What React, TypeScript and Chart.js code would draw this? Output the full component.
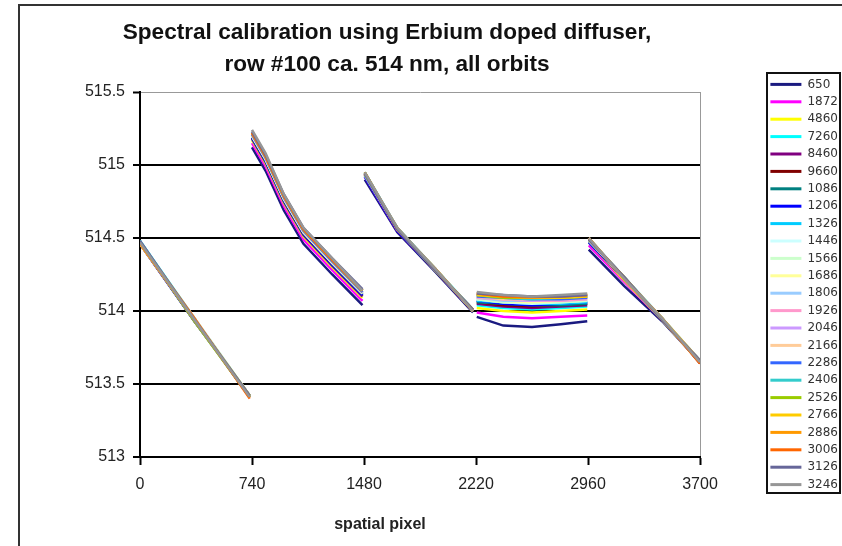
import React, { useEffect, useRef } from "react";
import { Chart, registerables } from "chart.js";

Chart.register(...registerables);

// ---- text ----
const titleLines = [
  "Spectral calibration using Erbium doped diffuser,",
  "row #100 ca. 514 nm, all orbits",
];
const xAxisTitle = "spatial pixel";
const xTickLabels = ["0", "740", "1480", "2220", "2960", "3700"];
const yTickLabels = ["513", "513.5", "514", "514.5", "515", "515.5"];

// ---- legend (orbits) ----
const orbits = [
  "650", "1872", "4860", "7260", "8460", "9660", "1086", "1206", "1326", "1446", "1566", "1686",
  "1806", "1926", "2046", "2166", "2286", "2406", "2526", "2766", "2886", "3006", "3126", "3246",
];

// ---- x positions (spatial pixel); null y values mark the gaps between detector blocks ----
const spatialPixel = [
  0, 360, 725, 732,
  740, 830, 950, 1080, 1270, 1470, 1477,
  1485, 1700, 1950, 2200, 2212,
  2225, 2400, 2590, 2780, 2955, 2960,
  2965, 3200, 3450, 3700,
];

// ---- wavelength (nm) per orbit ----
const s650 = [514.46, 513.93, 513.42, null, 515.12, 514.96, 514.69, 514.46, 514.25, 514.04, null, 514.90, 514.54, 514.27, 513.99, null, 513.96, 513.90, 513.89, 513.91, 513.93, null, 514.42, 514.17, 513.93, 513.65];
const s1872 = [514.47, 513.94, 513.41, null, 515.15, 514.99, 514.72, 514.49, 514.28, 514.07, null, 514.92, 514.55, 514.28, 514.00, null, 513.99, 513.96, 513.95, 513.96, 513.97, null, 514.45, 514.20, 513.94, 513.65];
const s4860 = [514.47, 513.94, 513.42, null, 515.17, 515.01, 514.74, 514.51, 514.30, 514.09, null, 514.93, 514.56, 514.28, 514.00, null, 514.02, 514.00, 513.99, 514.00, 514.01, null, 514.47, 514.21, 513.94, 513.66];
const s7260 = [514.48, 513.95, 513.42, null, 515.18, 515.02, 514.75, 514.52, 514.31, 514.10, null, 514.95, 514.56, 514.29, 514.01, null, 514.04, 514.02, 514.01, 514.02, 514.03, null, 514.48, 514.22, 513.95, 513.66];
const s8460 = [514.46, 513.94, 513.41, null, 515.18, 515.02, 514.75, 514.52, 514.31, 514.10, null, 514.93, 514.55, 514.28, 514.00, null, 514.05, 514.03, 514.02, 514.03, 514.04, null, 514.48, 514.22, 513.94, 513.65];
const s9660 = [514.47, 513.93, 513.42, null, 515.19, 515.03, 514.76, 514.53, 514.32, 514.11, null, 514.93, 514.56, 514.28, 514.01, null, 514.06, 514.04, 514.03, 514.04, 514.05, null, 514.49, 514.22, 513.95, 513.64];
const s1086 = [514.47, 513.94, 513.41, null, 515.19, 515.03, 514.76, 514.53, 514.32, 514.11, null, 514.94, 514.56, 514.29, 514.00, null, 514.06, 514.05, 514.04, 514.04, 514.05, null, 514.48, 514.23, 513.94, 513.65];
const s1206 = [514.46, 513.93, 513.42, null, 515.19, 515.03, 514.76, 514.53, 514.32, 514.11, null, 514.92, 514.55, 514.28, 514.00, null, 514.07, 514.05, 514.04, 514.05, 514.06, null, 514.47, 514.22, 513.94, 513.66];
const s1326 = [514.48, 513.94, 513.41, null, 515.20, 515.04, 514.77, 514.54, 514.33, 514.12, null, 514.95, 514.57, 514.28, 514.01, null, 514.07, 514.06, 514.05, 514.05, 514.06, null, 514.49, 514.23, 513.95, 513.65];
const s1446 = [514.47, 513.95, 513.42, null, 515.20, 515.04, 514.77, 514.54, 514.33, 514.12, null, 514.94, 514.56, 514.29, 514.00, null, 514.08, 514.06, 514.05, 514.06, 514.07, null, 514.49, 514.22, 513.94, 513.65];
const s1566 = [514.47, 513.94, 513.41, null, 515.20, 515.04, 514.77, 514.54, 514.33, 514.12, null, 514.93, 514.56, 514.28, 514.01, null, 514.08, 514.06, 514.06, 514.06, 514.07, null, 514.48, 514.23, 513.95, 513.66];
const s1686 = [514.46, 513.94, 513.42, null, 515.20, 515.04, 514.77, 514.54, 514.33, 514.12, null, 514.94, 514.57, 514.29, 514.00, null, 514.09, 514.07, 514.06, 514.07, 514.08, null, 514.49, 514.22, 513.95, 513.65];
const s1806 = [514.47, 513.93, 513.41, null, 515.21, 515.05, 514.78, 514.55, 514.34, 514.13, null, 514.95, 514.56, 514.28, 514.01, null, 514.09, 514.07, 514.07, 514.07, 514.08, null, 514.50, 514.23, 513.94, 513.65];
const s1926 = [514.48, 513.94, 513.42, null, 515.21, 515.05, 514.78, 514.55, 514.34, 514.13, null, 514.93, 514.56, 514.29, 514.00, null, 514.09, 514.08, 514.07, 514.07, 514.08, null, 514.49, 514.22, 513.95, 513.66];
const s2046 = [514.47, 513.94, 513.41, null, 515.21, 515.05, 514.78, 514.55, 514.34, 514.13, null, 514.94, 514.57, 514.28, 514.01, null, 514.10, 514.08, 514.07, 514.08, 514.09, null, 514.49, 514.23, 513.94, 513.65];
const s2166 = [514.46, 513.95, 513.42, null, 515.21, 515.05, 514.78, 514.55, 514.34, 514.13, null, 514.95, 514.56, 514.29, 514.00, null, 514.10, 514.08, 514.08, 514.08, 514.09, null, 514.50, 514.22, 513.95, 513.65];
const s2286 = [514.47, 513.94, 513.41, null, 515.21, 515.05, 514.78, 514.55, 514.34, 514.13, null, 514.94, 514.56, 514.28, 514.01, null, 514.10, 514.09, 514.08, 514.08, 514.09, null, 514.49, 514.23, 513.94, 513.66];
const s2406 = [514.48, 513.94, 513.42, null, 515.22, 515.06, 514.79, 514.56, 514.35, 514.14, null, 514.93, 514.57, 514.29, 514.00, null, 514.11, 514.09, 514.08, 514.09, 514.10, null, 514.50, 514.22, 513.95, 513.65];
const s2526 = [514.47, 513.93, 513.41, null, 515.22, 515.06, 514.79, 514.56, 514.35, 514.14, null, 514.95, 514.56, 514.28, 514.01, null, 514.11, 514.09, 514.09, 514.09, 514.10, null, 514.49, 514.23, 513.94, 513.65];
const s2766 = [514.47, 513.94, 513.42, null, 515.22, 515.06, 514.79, 514.56, 514.35, 514.14, null, 514.94, 514.56, 514.29, 514.00, null, 514.11, 514.10, 514.09, 514.09, 514.10, null, 514.50, 514.22, 513.95, 513.66];
const s2886 = [514.46, 513.94, 513.41, null, 515.22, 515.06, 514.79, 514.56, 514.35, 514.14, null, 514.94, 514.57, 514.28, 514.01, null, 514.12, 514.10, 514.09, 514.10, 514.11, null, 514.49, 514.23, 513.94, 513.65];
const s3006 = [514.47, 513.95, 513.40, null, 515.22, 515.06, 514.79, 514.56, 514.35, 514.14, null, 514.95, 514.56, 514.29, 514.00, null, 514.12, 514.10, 514.10, 514.10, 514.11, null, 514.50, 514.22, 513.95, 513.64];
const s3126 = [514.48, 513.94, 513.42, null, 515.23, 515.07, 514.80, 514.57, 514.36, 514.15, null, 514.94, 514.56, 514.28, 514.01, null, 514.12, 514.11, 514.10, 514.10, 514.11, null, 514.49, 514.23, 513.94, 513.66];
const s3246 = [514.47, 513.94, 513.41, null, 515.24, 515.08, 514.80, 514.57, 514.36, 514.14, null, 514.95, 514.57, 514.29, 514.00, null, 514.13, 514.11, 514.10, 514.11, 514.12, null, 514.50, 514.22, 513.95, 513.65];

const seriesValues = [
  s650, s1872, s4860, s7260, s8460, s9660, s1086, s1206, s1326, s1446, s1566, s1686,
  s1806, s1926, s2046, s2166, s2286, s2406, s2526, s2766, s2886, s3006, s3126, s3246,
];

const seriesColors = [
  "#1a1a80", "#ff00ff", "#ffff00", "#00ffff", "#800080", "#800000", "#008080", "#0000ff",
  "#00ccff", "#ccffff", "#ccffcc", "#ffff99", "#99ccff", "#ff99cc", "#cc99ff", "#ffcc99",
  "#3366ff", "#33cccc", "#99cc00", "#ffcc00", "#ff9900", "#ff6600", "#666699", "#969696",
];

const SANS = "'Liberation Sans', Arial, sans-serif";

const framePlugin = {
  id: "frameAndLegendBox",
  afterLayout(chart: any) {
    const lg = chart.legend;
    if (lg) {
      lg.left = 765;
      lg.right = 840;
      lg.top = 73;
      lg.bottom = 546;
      lg.width = 75;
      lg.height = 473;
    }
    const xs: any = chart.scales.x;
    if (xs && !xs._titleShift) {
      const orig = xs.drawTitle;
      xs.drawTitle = function () {
        const l = this.left;
        this.left = l - 80;
        orig.call(this);
        this.left = l;
      };
      xs._titleShift = true;
    }
  },
  afterDraw(chart: any) {
    const ctx = chart.ctx;
    ctx.save();
    ctx.fillStyle = "#ffffff";
    ctx.fillRect(841, 74, 2, 418);
    ctx.strokeStyle = "#111111";
    ctx.lineWidth = 2;
    ctx.strokeRect(767, 73, 73, 420);
    ctx.strokeStyle = "#333333";
    ctx.strokeRect(19, 5, 900, 700);
    ctx.restore();
  },
};

export default function App() {
  const ref = useRef<HTMLCanvasElement | null>(null);

  useEffect(() => {
    if (!ref.current) return;
    const datasets = seriesValues.map((vals, i) => ({
      label: orbits[i],
      data: spatialPixel.map((x, j) => ({ x, y: vals[j] })),
      borderColor: seriesColors[i],
      backgroundColor: seriesColors[i],
      borderWidth: 2.5,
      pointRadius: 0,
      tension: 0,
      spanGaps: false,
      order: seriesValues.length - i,
    }));

    const chart = new Chart(ref.current, {
      type: "line",
      data: { datasets },
      plugins: [framePlugin],
      options: {
        responsive: false,
        animation: false,
        devicePixelRatio: 1,
        layout: { padding: { left: 14, right: 82, top: 0, bottom: 0 } },
        plugins: {
          title: {
            display: true,
            text: titleLines,
            color: "#111",
            font: { family: SANS, size: 22.6, weight: "bold", lineHeight: 32 / 22.6 },
            padding: { top: 17, bottom: 11 },
          },
          legend: {
            display: true,
            position: "right",
            align: "start",
            maxWidth: 60,
            labels: {
              font: { family: "'DejaVu Sans', sans-serif", size: 12 },
              color: "#333",
              boxWidth: 31,
              boxHeight: 3,
              padding: 5.4,
              generateLabels: (c: any) =>
                c.data.datasets.map((ds: any, i: number) => ({
                  text: ds.label,
                  fillStyle: ds.borderColor,
                  strokeStyle: ds.borderColor,
                  lineWidth: 0,
                  hidden: false,
                  datasetIndex: i,
                  fontColor: "#333",
                })),
            },
          },
          tooltip: { enabled: false },
        },
        scales: {
          x: {
            type: "linear",
            min: 0,
            max: 3700,
            afterFit: (s: any) => {
              s.height = 89;
            },
            ticks: {
              stepSize: 740,
              color: "#222",
              font: { family: SANS, size: 16 },
              padding: 10,
              maxRotation: 0,
              callback: (_v: any, i: number) => xTickLabels[i],
            },
            grid: {
              color: (c: any) => (c.tick && c.tick.value === 3700 ? "#999999" : "rgba(0,0,0,0)"),
              lineWidth: 1,
              tickColor: "#000",
              tickWidth: 2,
              tickLength: 8,
            },
            border: { color: "#000", width: 2 },
            title: {
              display: true,
              text: xAxisTitle,
              color: "#222",
              font: { family: SANS, size: 16, weight: "bold" },
              padding: { top: 0, bottom: 12 },
            },
          },
          y: {
            type: "linear",
            min: 513,
            max: 515.5,
            afterFit: (s: any) => {
              s.width = 126;
            },
            ticks: {
              stepSize: 0.5,
              color: "#222",
              font: { family: SANS, size: 16 },
              padding: 8,
              callback: (_v: any, i: number) => yTickLabels[i],
            },
            grid: {
              color: (c: any) => (c.tick && c.tick.value === 515.5 ? "#999999" : "#000000"),
              lineWidth: (c: any) => (c.tick && c.tick.value === 515.5 ? 1 : 2),
              tickColor: "#000",
              tickWidth: 2,
              tickLength: 7,
            },
            border: { color: "#000", width: 2 },
          },
        },
      },
    } as any);

    return () => chart.destroy();
  }, []);

  return (
    <div style={{ position: "fixed", left: 0, top: 0, width: 842, height: 546, background: "#fff" }}>
      <canvas ref={ref} width={842} height={546} style={{ display: "block" }} />
    </div>
  );
}
